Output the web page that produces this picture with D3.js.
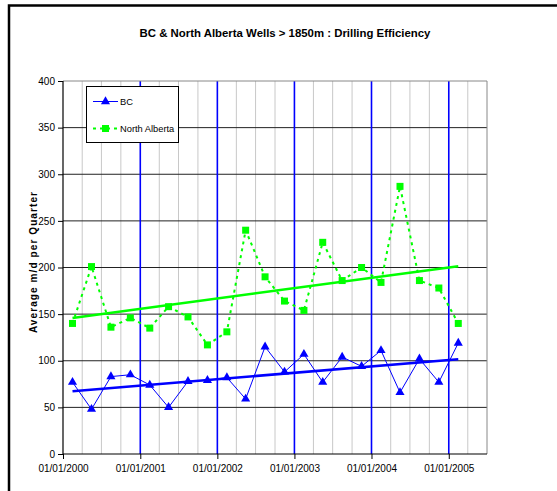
<!DOCTYPE html>
<html>
<head>
<meta charset="utf-8">
<script src="https://cdn.jsdelivr.net/npm/d3@7"></script>
<style>
  body { margin: 0; background: #fff; }
  svg { display: block; font-family: "Liberation Sans", Arial, sans-serif; }
</style>
</head>
<body>
<div id="chart"></div>
<script>
// Quarter mid-points, 2000 Q1 .. 2005 Q1
const quarters = [
  '2000-02-15','2000-05-15','2000-08-15','2000-11-15',
  '2001-02-15','2001-05-15','2001-08-15','2001-11-15',
  '2002-02-15','2002-05-15','2002-08-15','2002-11-15',
  '2003-02-15','2003-05-15','2003-08-15','2003-11-15',
  '2004-02-15','2004-05-15','2004-08-15','2004-11-15',
  '2005-02-15'
];
const bcValues = [77, 48, 83, 85, 74, 50, 78, 79, 82, 59, 115, 88, 107, 77, 104, 94, 111, 66, 102, 77, 119];
const northAlbertaValues = [140, 201, 136, 146, 135, 158, 147, 117, 131, 240, 190, 164, 154, 227, 186, 200, 184, 287, 186, 178, 140];
const yTicks = [0, 50, 100, 150, 200, 250, 300, 350, 400];
const yearTicks = ['2000-01-01','2001-01-01','2002-01-01','2003-01-01','2004-01-01','2005-01-01'];
const xDomain = ['2000-01-01', '2005-07-01'];

const W = 557, H = 491;
const pLeft = 63, pRight = 487, pTop = 81, pBottom = 454;
const parse = d3.utcParse('%Y-%m-%d');
const fmt = d3.utcFormat('%d/%m/%Y');

const svg = d3.select('#chart').append('svg').attr('width', W).attr('height', H);

// outer chart frame
svg.append('path').attr('d', `M9,${H + 2}V5.5H${W + 2}`)
  .attr('fill', 'none').attr('stroke', '#000').attr('stroke-width', 2.5);

const x = d3.scaleUtc().domain(xDomain.map(parse)).range([pLeft, pRight]);
const y = d3.scaleLinear().domain([0, 400]).range([pBottom, pTop]);

// title
svg.append('text').attr('x', 285).attr('y', 37).attr('text-anchor', 'middle')
  .attr('font-size', 11.4).attr('font-weight', 'bold')
  .text('BC & North Alberta Wells > 1850m : Drilling Efficiency');

// minor quarterly gridlines
const quarterLines = d3.utcMonth.every(3).range(x.domain()[0], x.domain()[1]).filter(d => d.getUTCMonth() !== 0);
svg.append('g').selectAll('line').data(quarterLines).join('line')
  .attr('x1', d => x(d)).attr('x2', d => x(d)).attr('y1', pTop).attr('y2', pBottom)
  .attr('stroke', '#c8c8c8').attr('stroke-width', 1);

// horizontal gridlines
svg.append('g').selectAll('line').data(yTicks.slice(1, -1)).join('line')
  .attr('x1', pLeft).attr('x2', pRight).attr('y1', d => y(d)).attr('y2', d => y(d))
  .attr('stroke', '#222').attr('stroke-width', 1);

// yearly blue lines
svg.append('g').selectAll('line').data(yearTicks.slice(1).map(parse)).join('line')
  .attr('x1', d => x(d)).attr('x2', d => x(d)).attr('y1', pTop).attr('y2', pBottom)
  .attr('stroke', '#0000ff').attr('stroke-width', 1.6);

// plot border (top/right grey)
svg.append('path').attr('d', `M${pLeft},${pTop}H${pRight}V${pBottom}`)
  .attr('fill', 'none').attr('stroke', '#888').attr('stroke-width', 1);

// axes
const yAxis = svg.append('g').attr('transform', `translate(${pLeft},0)`)
  .call(d3.axisLeft(y).tickValues(yTicks).tickSize(5).tickPadding(3));
const xAxis = svg.append('g').attr('transform', `translate(0,${pBottom})`)
  .call(d3.axisBottom(x).tickValues(yearTicks.map(parse)).tickFormat(fmt).tickSize(5).tickPadding(6));
[yAxis, xAxis].forEach(g => {
  g.select('.domain').attr('stroke', '#000').attr('stroke-width', 1.2);
  g.selectAll('.tick line').attr('stroke', '#000');
  g.selectAll('text').attr('font-size', 10).attr('fill', '#000')
    .attr('font-family', '"Liberation Sans", Arial, sans-serif');
});
xAxis.select('.domain').attr('d', `M${pLeft},0H${pRight}`);
yAxis.select('.domain').attr('d', `M0,${pBottom}V${pTop}`);

// y label
svg.append('text').attr('transform', `translate(37,262) rotate(-90)`).attr('text-anchor', 'middle')
  .attr('font-size', 10).attr('font-weight', 'bold').attr('letter-spacing', 1.1)
  .text('Average m/d per Quarter');

const dates = quarters.map(parse);
const bc = dates.map((d, i) => ({ d, v: bcValues[i] }));
const na = dates.map((d, i) => ({ d, v: northAlbertaValues[i] }));

// least squares trendline on quarter index
function trend(vals) {
  const n = vals.length, xs = d3.range(n);
  const mx = d3.mean(xs), my = d3.mean(vals);
  const b = d3.sum(xs, (k) => (k - mx) * (vals[k] - my)) / d3.sum(xs, k => (k - mx) ** 2);
  const a = my - b * mx;
  return [{ d: dates[0], v: a }, { d: dates[n - 1], v: a + b * (n - 1) }];
}

const line = d3.line().x(p => x(p.d)).y(p => y(p.v));

// North Alberta
svg.append('path').datum(na).attr('d', line).attr('fill', 'none')
  .attr('stroke', '#00ff00').attr('stroke-width', 2).attr('stroke-dasharray', '3,4');
svg.append('g').selectAll('rect').data(na).join('rect')
  .attr('x', p => x(p.d) - 3.5).attr('y', p => y(p.v) - 3.5).attr('width', 7).attr('height', 7)
  .attr('fill', '#00ff00');

// BC
svg.append('path').datum(bc).attr('d', line).attr('fill', 'none')
  .attr('stroke', '#0000ff').attr('stroke-width', 1);
const tri = d3.symbol().type(d3.symbolTriangle).size(36);
svg.append('g').selectAll('path').data(bc).join('path')
  .attr('transform', p => `translate(${x(p.d)},${y(p.v)})`).attr('d', tri).attr('fill', '#0000ff');

// trendlines
svg.append('path').datum(trend(northAlbertaValues)).attr('d', line).attr('fill', 'none')
  .attr('stroke', '#00ff00').attr('stroke-width', 2.5);
svg.append('path').datum(trend(bcValues)).attr('d', line).attr('fill', 'none')
  .attr('stroke', '#0000ff').attr('stroke-width', 2.5);

// legend
const lg = svg.append('g');
lg.append('rect').attr('x', 86.5).attr('y', 86.5).attr('width', 92).attr('height', 56)
  .attr('fill', '#fff').attr('stroke', '#000').attr('stroke-width', 1);
lg.append('line').attr('x1', 93).attr('x2', 118).attr('y1', 101.5).attr('y2', 101.5)
  .attr('stroke', '#0000ff').attr('stroke-width', 1);
lg.append('path').attr('transform', 'translate(105.5,101.5)').attr('d', tri).attr('fill', '#0000ff');
lg.append('text').attr('x', 120).attr('y', 105).attr('font-size', 9.3).text('BC');
lg.append('line').attr('x1', 93).attr('x2', 118).attr('y1', 128.5).attr('y2', 128.5)
  .attr('stroke', '#00ff00').attr('stroke-width', 2).attr('stroke-dasharray', '3,4');
lg.append('rect').attr('x', 102).attr('y', 125).attr('width', 7).attr('height', 7).attr('fill', '#00ff00');
lg.append('text').attr('x', 120).attr('y', 132).attr('font-size', 9.3).text('North Alberta');
</script>
</body>
</html>
